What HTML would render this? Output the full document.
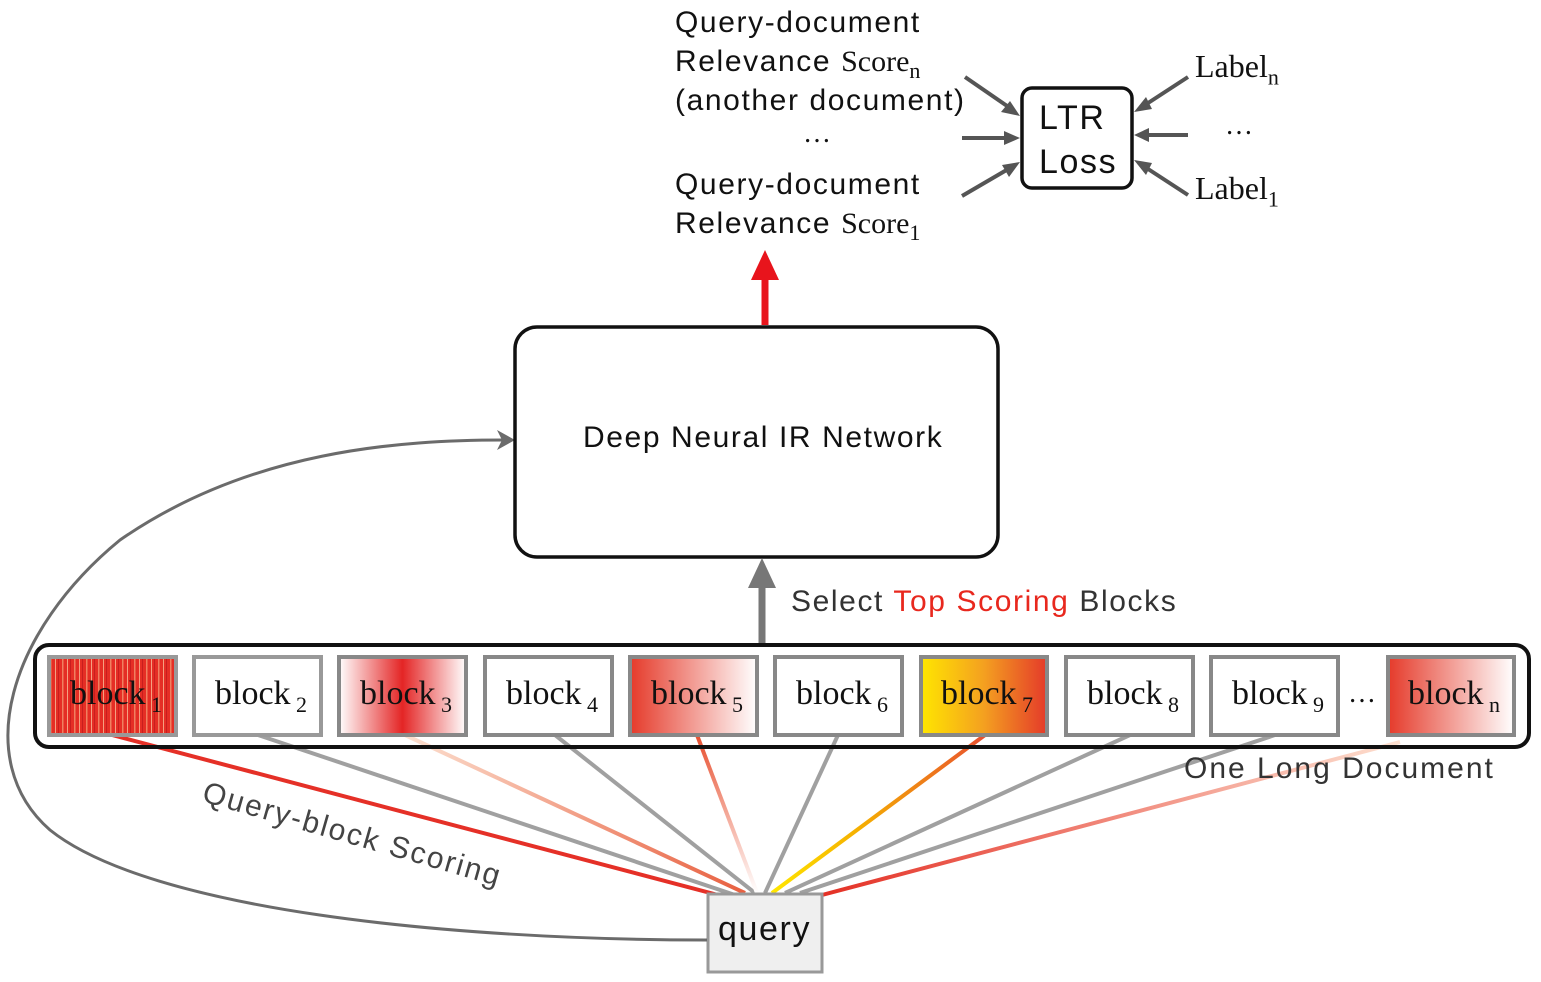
<!DOCTYPE html>
<html><head><meta charset="utf-8"><style>
body{margin:0;width:1541px;height:982px;background:#fff;position:relative;overflow:hidden;font-family:"Liberation Sans",sans-serif}
.t{position:absolute;white-space:nowrap;color:#111;letter-spacing:1.6px}
.s{font-family:"Liberation Serif",serif;letter-spacing:0}
.s sub{font-size:22px}
</style></head><body>
<svg width="1541" height="982" style="position:absolute;left:0;top:0">
<defs>
<linearGradient id="g3" x1="0" x2="1"><stop offset="0" stop-color="#fff"/><stop offset=".5" stop-color="#e42525"/><stop offset="1" stop-color="#fff"/></linearGradient>
<linearGradient id="g5" x1="0" x2="1"><stop offset="0" stop-color="#e53a2a"/><stop offset="1" stop-color="#fff"/></linearGradient>
<linearGradient id="g7" x1="0" x2="1"><stop offset="0" stop-color="#ffe600"/><stop offset=".5" stop-color="#f4a020"/><stop offset="1" stop-color="#e43a2a"/></linearGradient>
<pattern id="p1" width="12" height="10" patternUnits="userSpaceOnUse"><rect width="12" height="10" fill="#e52e25"/><rect x="2" width="1.5" height="10" fill="#f08060"/><rect x="7" width="1" height="10" fill="#f5a080"/><rect x="10" width="1" height="10" fill="#c81e1e"/></pattern>
<linearGradient id="l3" x1="0" x2="1"><stop offset="0" stop-color="#fce0d0"/><stop offset="1" stop-color="#e86040"/></linearGradient>
<linearGradient id="l5" x1="0" y1="0" x2="0" y2="1"><stop offset="0" stop-color="#e85030"/><stop offset="1" stop-color="#fff"/></linearGradient>
<linearGradient id="l7" x1="1" x2="0"><stop offset="0" stop-color="#e85030"/><stop offset=".6" stop-color="#f5b000"/><stop offset="1" stop-color="#ffe600"/></linearGradient>
<linearGradient id="ln" x1="1" x2="0"><stop offset="0" stop-color="#fde0d0"/><stop offset="1" stop-color="#e43025"/></linearGradient>
</defs>
<g stroke-width="4" fill="none">
<line x1="112" y1="735" x2="718" y2="895" stroke="#e53027"/>
<line x1="258" y1="735" x2="735" y2="895" stroke="#a0a0a0"/>
<line x1="405" y1="735" x2="745" y2="893" stroke="url(#l3)"/>
<line x1="555" y1="735" x2="755" y2="893" stroke="#a0a0a0"/>
<line x1="697" y1="735" x2="757" y2="893" stroke="url(#l5)"/>
<line x1="838" y1="735" x2="765" y2="893" stroke="#a0a0a0"/>
<line x1="985" y1="735" x2="772" y2="893" stroke="url(#l7)"/>
<line x1="1130" y1="735" x2="785" y2="893" stroke="#a0a0a0"/>
<line x1="1275" y1="735" x2="800" y2="893" stroke="#a0a0a0"/>
<line x1="1400" y1="742" x2="822" y2="895" stroke="url(#ln)"/>
</g>
<rect x="35" y="645" width="1494" height="102" rx="14" fill="none" stroke="#111" stroke-width="4"/>
<g stroke-width="4">
<rect x="49" y="657" width="127" height="78" fill="url(#p1)" stroke="#999"/>
<rect x="194" y="657" width="127" height="78" fill="#fff" stroke="#999"/>
<rect x="339" y="657" width="127" height="78" fill="url(#g3)" stroke="#888"/>
<rect x="485" y="657" width="127" height="78" fill="#fff" stroke="#888"/>
<rect x="630" y="657" width="127" height="78" fill="url(#g5)" stroke="#888"/>
<rect x="775" y="657" width="127" height="78" fill="#fff" stroke="#888"/>
<rect x="921" y="657" width="126" height="78" fill="url(#g7)" stroke="#888"/>
<rect x="1066" y="657" width="127" height="78" fill="#fff" stroke="#888"/>
<rect x="1211" y="657" width="127" height="78" fill="#fff" stroke="#888"/>
<rect x="1388" y="657" width="126" height="78" fill="url(#g5)" stroke="#888"/>
</g>
<rect x="708" y="894" width="114" height="78" fill="#efefef" stroke="#999" stroke-width="3"/>
<path d="M707 940 C 450 940, 150 910, 50 830 C -30 760, 10 630, 120 540 C 250 450, 400 440, 505 440" fill="none" stroke="#6b6b6b" stroke-width="3"/>
<path d="M515 440 L497 430 L502 440 L497 450 Z" fill="#6b6b6b"/>
<rect x="515" y="327" width="483" height="230" rx="22" fill="#fff" stroke="#111" stroke-width="3.5"/>
<line x1="762" y1="643" x2="762" y2="582" stroke="#777" stroke-width="7"/>
<path d="M762 558 L748 588 L776 588 Z" fill="#777"/>
<line x1="765" y1="325" x2="765" y2="275" stroke="#e8141c" stroke-width="7"/>
<path d="M765 250 L751 280 L779 280 Z" fill="#e8141c"/>
<rect x="1022" y="88" width="110" height="100" rx="10" fill="#fff" stroke="#111" stroke-width="3.5"/>
<g stroke="#555" stroke-width="4" fill="#555">
<line x1="965" y1="77" x2="1010" y2="108"/><path d="M1020 116 L1001 112 L1010 101 Z" stroke="none"/>
<line x1="962" y1="138" x2="1008" y2="138"/><path d="M1020 138 L1004 131 L1004 145 Z" stroke="none"/>
<line x1="962" y1="196" x2="1010" y2="168"/><path d="M1020 162 L1009 177 L1002 165 Z" stroke="none"/>
<line x1="1188" y1="77" x2="1145" y2="105"/><path d="M1134 112 L1146 97 L1152 109 Z" stroke="none"/>
<line x1="1188" y1="135" x2="1146" y2="135"/><path d="M1134 135 L1149 128 L1149 142 Z" stroke="none"/>
<line x1="1188" y1="195" x2="1145" y2="167"/><path d="M1134 160 L1152 163 L1146 175 Z" stroke="none"/>
</g>
</svg>
<div class="t" style="left:675px;top:6px;font-size:30px">Query-document</div>
<div class="t" style="left:675px;top:45px;font-size:30px">Relevance <span class="s">Score<sub>n</sub></span></div>
<div class="t" style="left:675px;top:84px;font-size:30px">(another document)</div>
<div class="t s" style="left:803px;top:118px;font-size:28px">…</div>
<div class="t" style="left:675px;top:168px;font-size:30px">Query-document</div>
<div class="t" style="left:675px;top:207px;font-size:30px">Relevance <span class="s">Score<sub>1</sub></span></div>
<div class="t" style="left:1039px;top:96px;font-size:34px;line-height:44px">LTR<br>Loss</div>
<div class="t s" style="left:1195px;top:48px;font-size:32px">Label<sub>n</sub></div>
<div class="t s" style="left:1225px;top:110px;font-size:28px">…</div>
<div class="t s" style="left:1195px;top:170px;font-size:32px">Label<sub>1</sub></div>
<div class="t" style="left:583px;top:421px;font-size:30px">Deep Neural IR Network</div>
<div class="t" style="left:791px;top:585px;font-size:30px;color:#333">Select <span style="color:#e8281e">Top Scoring</span> Blocks</div>
<div class="t" style="left:1184px;top:752px;font-size:30px;color:#333;letter-spacing:2px">One Long Document</div>
<div class="t" style="left:208px;top:776px;font-size:30px;color:#444;letter-spacing:2px;transform:rotate(16deg);transform-origin:0 0">Query-block Scoring</div>
<div class="t" style="left:718px;top:910px;font-size:34px">query</div>
<div class="t s" style="left:1348px;top:678px;font-size:28px">…</div>
<div class="t s" style="left:70px;top:675px;font-size:34px">block<sub> 1</sub></div>
<div class="t s" style="left:215px;top:675px;font-size:34px">block<sub> 2</sub></div>
<div class="t s" style="left:360px;top:675px;font-size:34px">block<sub> 3</sub></div>
<div class="t s" style="left:506px;top:675px;font-size:34px">block<sub> 4</sub></div>
<div class="t s" style="left:651px;top:675px;font-size:34px">block<sub> 5</sub></div>
<div class="t s" style="left:796px;top:675px;font-size:34px">block<sub> 6</sub></div>
<div class="t s" style="left:941px;top:675px;font-size:34px">block<sub> 7</sub></div>
<div class="t s" style="left:1087px;top:675px;font-size:34px">block<sub> 8</sub></div>
<div class="t s" style="left:1232px;top:675px;font-size:34px">block<sub> 9</sub></div>
<div class="t s" style="left:1408px;top:675px;font-size:34px">block<sub> n</sub></div>
</body></html>
